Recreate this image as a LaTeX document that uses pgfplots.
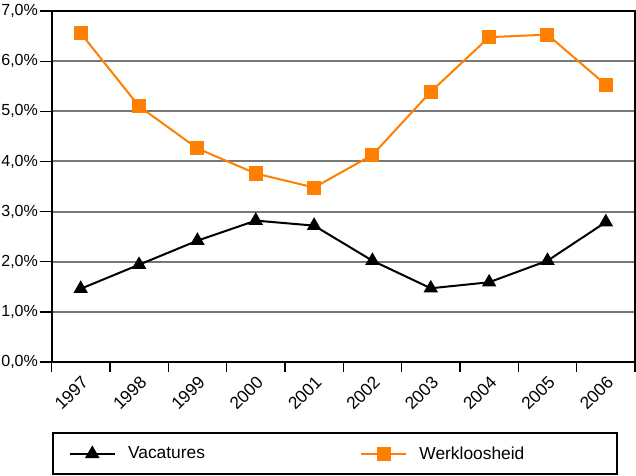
\documentclass[border=0pt]{standalone}
\usepackage{pgfplots}
\pgfplotsset{compat=1.18}
\usepackage{fontspec}
\setmainfont{Liberation Sans}
\definecolor{orng}{HTML}{FF8000}
\definecolor{gridgray}{HTML}{777777}
\newcommand{\yfont}{\fontsize{12}{14}\selectfont}
\newcommand{\xfont}{\fontsize{13}{15}\selectfont}
\newcommand{\lgfont}{\fontsize{13}{15}\selectfont}
\begin{document}
\begin{tikzpicture}
\begin{axis}[
  scale only axis, width=436.5pt, height=262.5pt,
  xmin=-0.5, xmax=9.5, ymin=0, ymax=7,
  xtick={0,...,9},
  xticklabels={1997,1998,1999,2000,2001,2002,2003,2004,2005,2006},
  minor xtick={-0.5,0.5,...,9.5},
  major x tick style={draw=none},
  ytick={0,...,7},
  tick align=outside,
  xtick pos=bottom, ytick pos=left,
  major tick length=9pt, minor tick length=7.5pt,
  every tick/.style={black, line width=1pt},
  minor tick style={black, line width=1pt},
  ymajorgrids, grid style={gridgray, line width=1.5pt},
  axis line style={black, line width=1.5pt},
  /pgf/number format/assume math mode=true,
  yticklabel={\pgfmathprintnumber[fixed,fixed zerofill,precision=1,use comma]{\tick}\%},
  yticklabel style={font=\yfont, inner xsep=1pt},
  xticklabel style={font=\xfont, rotate=45, anchor=north east, xshift=3pt, yshift=3pt},
  legend columns=2,
  legend style={at={(0,-0.2)}, anchor=north west, draw=black, line width=1.5pt,
    font=\lgfont, inner xsep=12pt, inner ysep=8pt,
    nodes={text width=126.5pt, align=left, inner xsep=9pt},
    /tikz/every even column/.append style={column sep=38pt}},
  legend image code/.code={\draw[mark repeat=2,mark phase=2] plot coordinates {(0pt,0pt)(17pt,0pt)(34pt,0pt)};},
]
\addplot[black, line width=1.5pt, mark=triangle*, mark size=4.8pt, mark options={solid}]
  coordinates {(0,1.46)(1,1.94)(2,2.42)(3,2.82)(4,2.72)(5,2.02)(6,1.47)(7,1.59)(8,2.02)(9,2.79)};
\addlegendentry{Vacatures}
\addplot[orng, line width=1.5pt, mark=square*, mark size=4.5pt, mark options={solid}]
  coordinates {(0,6.56)(1,5.10)(2,4.26)(3,3.76)(4,3.48)(5,4.13)(6,5.39)(7,6.48)(8,6.53)(9,5.53)};
\addlegendentry{Werkloosheid}
\end{axis}
\end{tikzpicture}
\end{document}
